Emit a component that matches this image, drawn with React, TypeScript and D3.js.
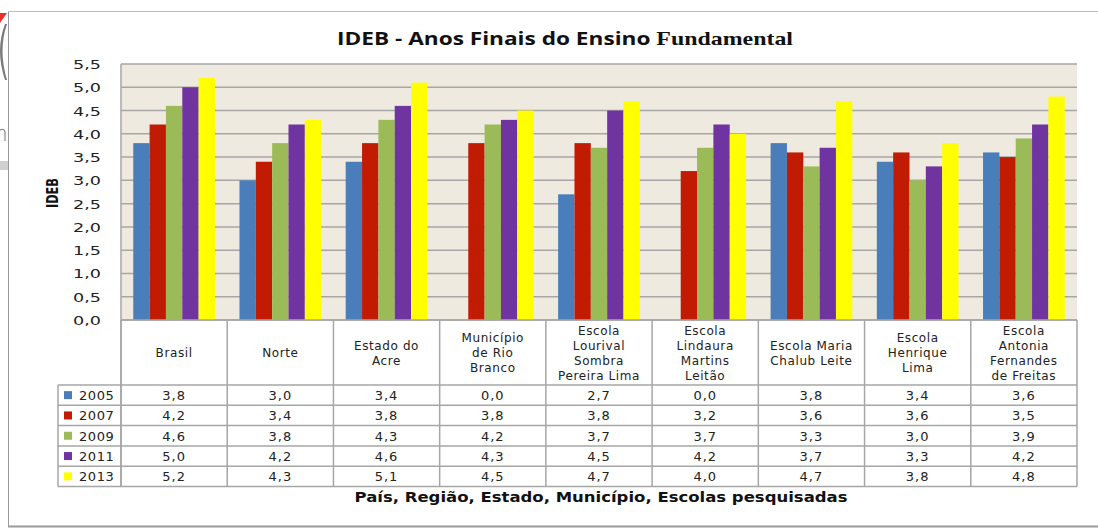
import React from 'react';
import * as d3 from 'd3';

// categories (header cells, split in lines as in the table)
const categories = [
  'Brasil',
  'Norte',
  'Estado do Acre',
  'Município de Rio Branco',
  'Escola Lourival Sombra Pereira Lima',
  'Escola Lindaura Martins Leitão',
  'Escola Maria Chalub Leite',
  'Escola Henrique Lima',
  'Escola Antonia Fernandes de Freitas',
];
const categoryLines = [
  ['Brasil'],
  ['Norte'],
  ['Estado do', 'Acre'],
  ['Município', 'de Rio', 'Branco'],
  ['Escola', 'Lourival', 'Sombra', 'Pereira Lima'],
  ['Escola', 'Lindaura', 'Martins', 'Leitão'],
  ['Escola Maria', 'Chalub Leite'],
  ['Escola', 'Henrique', 'Lima'],
  ['Escola', 'Antonia', 'Fernandes', 'de Freitas'],
];

const years = ['2005', '2007', '2009', '2011', '2013'];
const colors = ['#4A7EBB', '#C21B04', '#9BBB59', '#7034A0', '#FFFF00'];

const v2005 = [3.8, 3.0, 3.4, 0.0, 2.7, 0.0, 3.8, 3.4, 3.6];
const v2007 = [4.2, 3.4, 3.8, 3.8, 3.8, 3.2, 3.6, 3.6, 3.5];
const v2009 = [4.6, 3.8, 4.3, 4.2, 3.7, 3.7, 3.3, 3.0, 3.9];
const v2011 = [5.0, 4.2, 4.6, 4.3, 4.5, 4.2, 3.7, 3.3, 4.2];
const v2013 = [5.2, 4.3, 5.1, 4.5, 4.7, 4.0, 4.7, 3.8, 4.8];
const series = [v2005, v2007, v2009, v2011, v2013];

const yTicks = [0, 0.5, 1, 1.5, 2, 2.5, 3, 3.5, 4, 4.5, 5, 5.5];

const W = 1098;
const H = 528;
const plot = { left: 121, right: 1077, top: 64, bottom: 320 };
const headerBottom = 385;
const rowH = 20.3;
const legendLeft = 58;
const gridColor = '#A6A6A6';
const font = '"DejaVu Sans", Verdana, sans-serif';

const fmt = (v: number) => v.toFixed(1).replace('.', ',');

export default function App() {
  const x = d3.scaleBand<string>().domain(categories).range([plot.left, plot.right]);
  const xi = d3.scaleBand<string>().domain(years).range([0, x.bandwidth()]).paddingOuter(0.75);
  const y = d3.scaleLinear().domain([0, 5.5]).range([plot.bottom, plot.top]);
  const tableBottom = headerBottom + rowH * years.length;
  const bounds = [...categories.map((c) => x(c) as number), plot.right];

  return (
    <svg width={W} height={H} style={{ position: 'absolute', left: 0, top: 0, background: '#fff' }}>
      {/* leftovers of the page behind the chart */}
      <polygon points="0,13 7,13 0,23" fill="#E8312A" />
      <path d="M7,24 Q-2,50 7,80 L5,80 Q-5,50 5,24 Z" fill="#7A7A7A" />
      <path d="M0,130 Q4,128 5,132 L5,141" fill="none" stroke="#888" strokeWidth={1.2} />
      <rect x={0} y={161} width={8} height={9} fill="#D0D0D0" />

      {/* frame */}
      <line x1={8.5} y1={11} x2={8.5} y2={527} stroke="#9A9A9A" />
      <line x1={8} y1={11.5} x2={W} y2={11.5} stroke="#BDBDBD" />
      <line x1={8} y1={526.5} x2={W} y2={526.5} stroke="#9A9A9A" strokeWidth={2} />

      <text x={565} y={45} textAnchor="middle" fontFamily={'"Open Sans", sans-serif'} fontWeight="bold"
        fontSize={18} fill="#111" textLength={456} lengthAdjust="spacingAndGlyphs">
        IDEB - Anos Finais do Ensino <tspan fontFamily={'"Liberation Serif", serif'} fontSize={19}>Fundamental</tspan>
      </text>

      {/* plot area */}
      <rect x={plot.left} y={plot.top} width={plot.right - plot.left} height={plot.bottom - plot.top} fill="#EEEADF" />
      {yTicks.map((t) => (
        <g key={t}>
          <line x1={plot.left} x2={plot.right} y1={y(t)} y2={y(t)} stroke={gridColor} strokeWidth={1.5} />
          <text x={101} y={y(t) + 5} textAnchor="end" fontFamily={font} fontSize={13} fill="#222"
            textLength={28} lengthAdjust="spacingAndGlyphs">{fmt(t)}</text>
        </g>
      ))}
      <line x1={plot.left} x2={plot.left} y1={plot.top} y2={tableBottom} stroke={gridColor} strokeWidth={1.5} />

      {categories.map((c, ci) => (
        <g key={c} transform={`translate(${x(c)},0)`}>
          {series.map((s, si) => (
            s[ci] > 0 ? (
              <rect key={si} x={xi(years[si])} y={y(s[ci])} width={xi.bandwidth()}
                height={y(0) - y(s[ci])} fill={colors[si]} />
            ) : null
          ))}
        </g>
      ))}

      <text transform={`translate(58,193) rotate(-90)`} textAnchor="middle" fontFamily={font} fontWeight="bold"
        fontSize={16} fill="#111" textLength={30} lengthAdjust="spacingAndGlyphs">IDEB</text>

      {/* data table */}
      {bounds.map((bx, i) => (
        <line key={i} x1={bx} x2={bx} y1={plot.bottom} y2={tableBottom} stroke={gridColor} strokeWidth={1.5} />
      ))}
      <line x1={plot.left} x2={plot.right} y1={plot.bottom} y2={plot.bottom} stroke={gridColor} strokeWidth={1.5} />
      <line x1={legendLeft} x2={legendLeft} y1={headerBottom} y2={tableBottom} stroke={gridColor} strokeWidth={1.5} />
      {years.map((_, i) => (
        <line key={i} x1={legendLeft} x2={plot.right} y1={headerBottom + rowH * i} y2={headerBottom + rowH * i}
          stroke={gridColor} strokeWidth={1.5} />
      ))}
      <line x1={legendLeft} x2={plot.right} y1={tableBottom} y2={tableBottom} stroke={gridColor} strokeWidth={1.5} />

      {categories.map((c, ci) => {
        const cx = (x(c) as number) + x.bandwidth() / 2;
        const lines = categoryLines[ci];
        const mid = (plot.bottom + headerBottom) / 2;
        return (
          <text key={c} textAnchor="middle" fontFamily={font} fontSize={12} fill="#222" letterSpacing={0.6}>
            {lines.map((l, li) => (
              <tspan key={li} x={cx} y={mid + (li - (lines.length - 1) / 2) * 15 + 4.5}>{l}</tspan>
            ))}
          </text>
        );
      })}

      {years.map((yr, si) => {
        const rowY = headerBottom + rowH * si + rowH / 2;
        return (
          <g key={yr}>
            <rect x={64} y={rowY - 4} width={8} height={8} fill={colors[si]} />
            <text x={79} y={rowY + 5} fontFamily={font} fontSize={13} fill="#222" letterSpacing={0.6}>{yr}</text>
            {categories.map((c, ci) => (
              <text key={c} x={(x(c) as number) + x.bandwidth() / 2} y={rowY + 5} textAnchor="middle"
                fontFamily={font} fontSize={13} fill="#222" letterSpacing={1}>{fmt(series[si][ci])}</text>
            ))}
          </g>
        );
      })}

      <text x={601} y={502} textAnchor="middle" fontFamily={font} fontWeight="bold" fontSize={14} fill="#111"
        textLength={493} lengthAdjust="spacingAndGlyphs">País, Região, Estado, Município, Escolas pesquisadas</text>
    </svg>
  );
}
